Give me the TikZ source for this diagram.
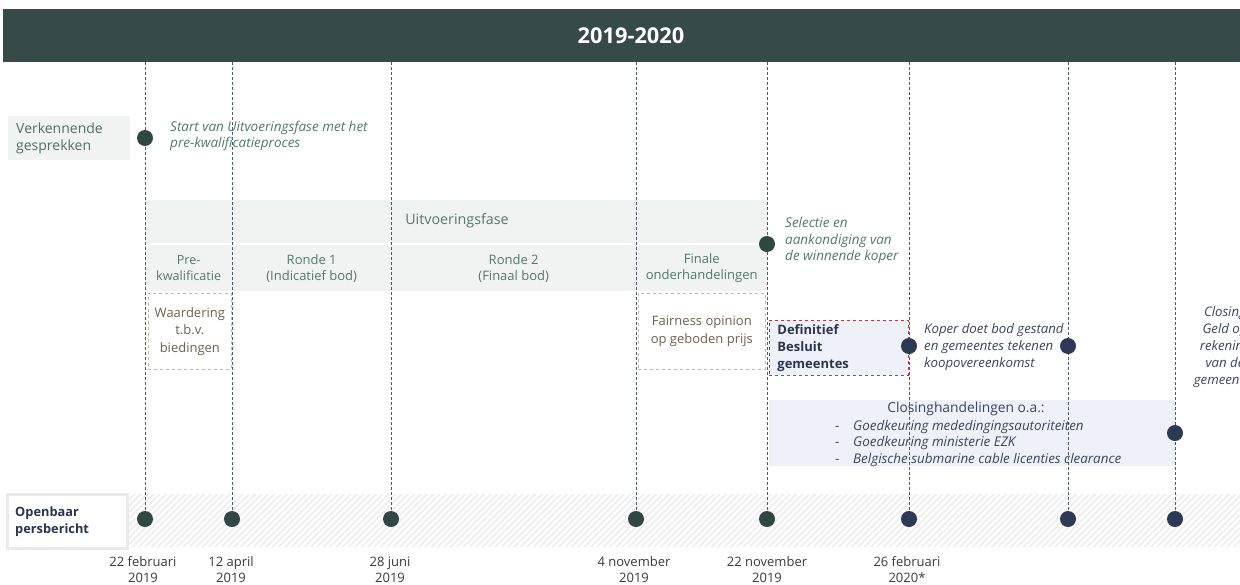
\documentclass[tikz,border=0pt]{standalone}
\usepackage{fontspec}
\setmainfont{Open Sans}
\usetikzlibrary{patterns.meta}
\newcommand\fsz[2]{\fontsize{#1}{#2}\selectfont}
\definecolor{hdr}{HTML}{364B47}
\definecolor{dgreen}{HTML}{2F4842}
\definecolor{navy}{HTML}{2E3A55}
\definecolor{gtext}{HTML}{4F7A6E}
\definecolor{ltext}{HTML}{4F6F68}
\definecolor{band}{HTML}{F1F3F2}
\definecolor{tan}{HTML}{C9B99B}
\definecolor{tantext}{HTML}{6E604C}
\definecolor{lblue}{HTML}{EEF1F7}
\definecolor{redd}{HTML}{D0313B}
\definecolor{vline}{HTML}{4F5E66}
\definecolor{navytext}{HTML}{3B4560}
\definecolor{bnavy}{HTML}{2B3553}
\definecolor{datec}{HTML}{3A3A3A}
\definecolor{hatch}{HTML}{EFEFEF}
\definecolor{obox}{HTML}{E9EBEA}
\pgfdeclarelayer{bg}
\pgfdeclarelayer{lines}
\pgfsetlayers{bg,lines,main}
\begin{document}
\begin{tikzpicture}[x=1pt,y=-1pt,
  vl/.style={draw=vline, line width=0.7pt, dash pattern=on 3pt off 2pt},
  dotg/.style={circle, fill=dgreen, minimum size=16pt, inner sep=0pt},
  dotn/.style={circle, fill=navy, minimum size=16pt, inner sep=0pt},
  gital/.style={font=\fsz{13.5}{15.5}\itshape, text=gtext, align=left, inner sep=0pt, anchor=west},
  nital/.style={font=\fsz{13.2}{16.8}\itshape, text=navytext, align=left, inner sep=0pt, anchor=west},
  cell/.style={fill=band, minimum height=46pt, inner sep=0pt, anchor=north west, font=\fsz{13}{16}, text=gtext, align=center},
  datel/.style={font=\fsz{13}{16}, text=datec, align=center, inner sep=0pt},
  tanbox/.style={draw=tan, dashed, line width=0.7pt, inner sep=0pt, anchor=north west, font=\fsz{13}{17.5}, text=tantext, align=center}
]
\useasboundingbox (0,0) rectangle (1240,584);

\begin{pgfonlayer}{bg}
% header
\node[fill=hdr, minimum width=1237pt, minimum height=53pt, anchor=north west, inner sep=0pt] (hdr) at (3,9) {};
% verkennende
\node[fill=band, anchor=north west, minimum width=122pt, minimum height=44pt, text width=106pt, inner xsep=8pt, inner ysep=0pt, align=left, font=\fsz{14}{17.5}, text=ltext] (verk) at (8,116) {Verkennende\\gesprekken};
% bands
\node[fill=band, minimum width=622pt, minimum height=43pt, anchor=north west, inner sep=0pt] (uitvband) at (145,200) {};
\node[cell, minimum width=87pt, font=\fsz{12.6}{16}] (pre) at (145,245) {Pre-\\kwalificatie};
\node[cell, minimum width=159pt] (r1) at (232,245) {Ronde 1\\(Indicatief bod)};
\node[cell, minimum width=245pt] (r2) at (391,245) {Ronde 2\\(Finaal bod)};
\node[cell, minimum width=131pt] (fin) at (636,245) {Finale\\onderhandelingen};
% dashed boxes
\node[tanbox, minimum width=83pt, minimum height=76pt] (waard) at (148,293) {Waardering\\t.b.v.\\biedingen};
\node[tanbox, minimum width=127pt, minimum height=76pt] (fair) at (638,293) {Fairness opinion\\op geboden prijs};
\node[fill=lblue, draw=redd, dashed, line width=0.8pt, anchor=north west, minimum width=139pt, minimum height=55pt, text width=123pt, inner xsep=8pt, inner ysep=0pt, align=left, font=\fsz{13}{17}\bfseries, text=bnavy] (besluit) at (769,320) {Definitief\\Besluit\\gemeentes};
% closing box
\node[fill=lblue, minimum width=406pt, minimum height=66pt, anchor=north west, inner sep=0pt] (closebox) at (769,400) {};
% hatched band
\node[fill=white, pattern={Lines[angle=45,distance=4.5pt,line width=2pt]}, pattern color=hatch, minimum width=1112pt, minimum height=52pt, anchor=north west, inner sep=0pt] (hband) at (128,493) {};
\node[fill=white, draw=obox, line width=2.5pt, anchor=north west, minimum width=120pt, minimum height=54pt, text width=104pt, inner xsep=8pt, inner ysep=0pt, align=left, font=\fsz{12.8}{17}\bfseries, text=bnavy] (openb) at (6,493) {Openbaar\\persbericht};
\end{pgfonlayer}

\node[font=\fsz{21.8}{24}\bfseries, text=white] (year) at (631,36) {2019-2020};
\node[font=\fsz{14.3}{16}, text=gtext] (uitv) at (457,221) {Uitvoeringsfase};

% top coordinates
\foreach \x [count=\i] in {145,232,391,636,767,909,1068,1175}
  \coordinate (t\i) at (\x,62);

% circles
\node[dotg] (b1) at (145,519) {};
\node[dotg] (b2) at (232,519) {};
\node[dotg] (b3) at (391,519) {};
\node[dotg] (b4) at (636,519) {};
\node[dotg] (b5) at (767,519) {};
\node[dotn] (b6) at (909,519) {};
\node[dotn] (b7) at (1068,519) {};
\node[dotn] (b8) at (1175,519) {};
\node[dotg] (m1) at (145,138) {};
\node[dotg] (m2) at (767,244) {};
\node[dotn] (m3) at (909,346) {};
\node[dotn] (m4) at (1068,346) {};
\node[dotn] (m5) at (1175,433) {};

\begin{pgfonlayer}{lines}
\foreach \i in {1,...,8}
  \draw[vl] (t\i) -- (b\i.center);
\end{pgfonlayer}

% texts
\node[gital] (start) at (170,136) {Start van Uitvoeringsfase met het\\pre-kwalificatieproces};
\node[gital, font=\fsz{13.5}{16.5}\itshape] (selectie) at (785,240.5) {Selectie en\\aankondiging van\\de winnende koper};
\node[nital] (koper) at (924,347) {Koper doet bod gestand\\en gemeentes tekenen\\koopovereenkomst};
\begin{scope}
\clip (1180,290) rectangle (1240,400);
\node[font=\fsz{13.2}{16.8}\itshape, text=navytext, align=center, inner sep=0pt] (closing) at (1225,347) {Closing\\Geld op\\rekening\\van de\\gemeentes};
\end{scope}
\node[font=\fsz{13.8}{16}, text=navytext, inner sep=0pt] (clt) at (966,409) {Closinghandelingen o.a.:};
\node[font=\fsz{13.4}{16.5}, text=navytext, align=left, inner sep=0pt, anchor=west] (cll) at (835,443.5) {\makebox[18pt][l]{-}\textit{Goedkeuring mededingingsautoriteiten}\\\makebox[18pt][l]{-}\textit{Goedkeuring ministerie EZK}\\\makebox[18pt][l]{-}\textit{Belgische submarine cable licenties clearance}};

% dates
\node[datel] (d1) at (143,570) {22 februari\\2019};
\node[datel] (d2) at (231,570) {12 april\\2019};
\node[datel] (d3) at (390,570) {28 juni\\2019};
\node[datel] (d4) at (634,570) {4 november\\2019};
\node[datel] (d5) at (767,570) {22 november\\2019};
\node[datel] (d6) at (907,570) {26 februari\\2020*};
\end{tikzpicture}
\end{document}
